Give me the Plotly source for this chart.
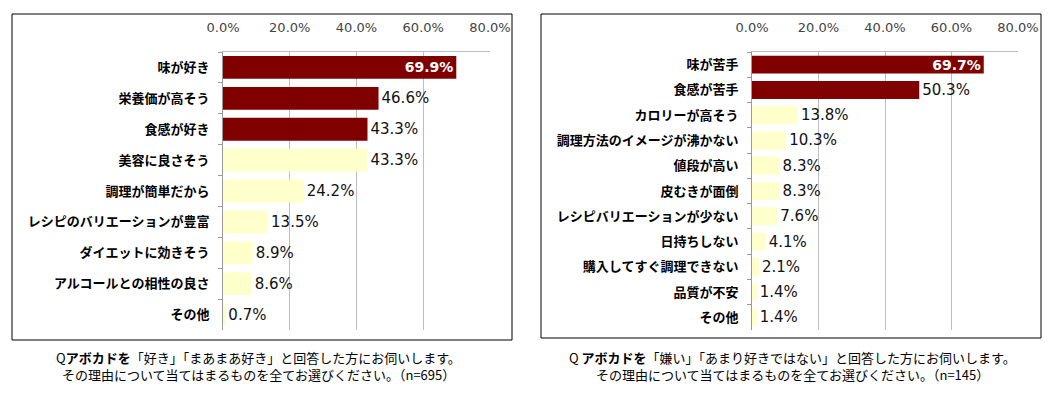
import plotly.graph_objects as go

# ---- data ----
like_reasons = ["味が好き", "栄養価が高そう", "食感が好き", "美容に良さそう", "調理が簡単だから",
                "レシピのバリエーションが豊富", "ダイエットに効きそう", "アルコールとの相性の良さ", "その他"]
like_values = [69.9, 46.6, 43.3, 43.3, 24.2, 13.5, 8.9, 8.6, 0.7]
like_highlight = 3

dislike_reasons = ["味が苦手", "食感が苦手", "カロリーが高そう", "調理方法のイメージが沸かない", "値段が高い",
                   "皮むきが面倒", "レシピバリエーションが少ない", "日持ちしない", "購入してすぐ調理できない",
                   "品質が不安", "その他"]
dislike_values = [69.7, 50.3, 13.8, 10.3, 8.3, 8.3, 7.6, 4.1, 2.1, 1.4, 1.4]
dislike_highlight = 2

tick_vals = [0, 20, 40, 60, 80]
tick_text = ["0.0%", "20.0%", "40.0%", "60.0%", "80.0%"]

caption_left = ["Q<b>アボカドを</b>「好き」「まあまあ好き」と回答した方にお伺いします。",
                "その理由について当てはまるものを全てお選びください。（n=695）"]
caption_right = ["Q <b>アボカドを</b>「嫌い」「あまり好きではない」と回答した方にお伺いします。",
                 "その理由について当てはまるものを全てお選びください。（n=145）"]

# ---- style ----
OFF = 8  # default page body margin
W, H = 1060 - OFF, 396 - OFF
DARK = "#800000"
LIGHT = "#FFFFCC"
GRID = "#BDBDBD"
LABEL_FONT = "Noto Sans CJK JP"
NUM_FONT = "DejaVu Sans"


def px_x(v):
    return (v - OFF) / W


def px_y(v):
    return 1 - (v - OFF) / H


fig = go.Figure()


def add_panel(cats, vals, n_hi, xa, ya, width):
    colors = [DARK if i < n_hi else LIGHT for i in range(len(vals))]
    pos = ["inside" if i == 0 else "outside" for i in range(len(vals))]
    fig.add_trace(go.Bar(
        y=cats, x=vals, orientation="h",
        marker=dict(color=colors, line=dict(width=0)),
        width=width,
        text=[f"{v:.1f}%" for v in vals],
        textposition=pos,
        insidetextanchor="end",
        insidetextfont=dict(family=NUM_FONT, size=14, color="white", weight="bold"),
        outsidetextfont=dict(family=NUM_FONT, size=15, color="#111111"),
        constraintext="none",
        cliponaxis=False,
        xaxis=xa, yaxis=ya, showlegend=False,
        hoverinfo="skip",
    ))


add_panel(like_reasons, like_values, like_highlight, "x", "y", 0.74)
add_panel(dislike_reasons, dislike_values, dislike_highlight, "x2", "y2", 0.71)

xcommon = dict(range=[0, 80], tickvals=tick_vals, ticktext=tick_text, side="top",
               showgrid=True, gridcolor=GRID, gridwidth=1, zeroline=False,
               showline=True, linecolor=GRID, linewidth=1, ticks="",
               ticklabelstandoff=14, automargin=False,
               tickfont=dict(family=NUM_FONT, size=13, color="#444444"), fixedrange=True)
ycommon = dict(autorange="reversed", type="category", showline=True, linecolor="#999999",
               linewidth=1, mirror=False, ticks="outside", tickson="boundaries", ticklen=4,
               tickcolor="#999999", ticklabelstandoff=10, showgrid=False, automargin=False,
               tickfont=dict(family=LABEL_FONT, size=13, color="black", weight="bold"),
               fixedrange=True)

fig.update_layout(
    width=W, height=H,
    margin=dict(l=0, r=0, t=0, b=0, autoexpand=False),
    paper_bgcolor="white", plot_bgcolor="white",
    xaxis=dict(domain=[px_x(223), px_x(490)], anchor="y", **xcommon),
    yaxis=dict(domain=[px_y(330), px_y(52)], anchor="x", **ycommon),
    xaxis2=dict(domain=[px_x(752), px_x(1018)], anchor="y2", **xcommon),
    yaxis2=dict(domain=[px_y(330), px_y(52)], anchor="x2", **ycommon),
)

# panel frames
fig.add_shape(type="rect", xref="paper", yref="paper",
              x0=px_x(12), x1=px_x(512), y0=px_y(340), y1=px_y(14),
              line=dict(color="black", width=1), layer="below")
fig.add_shape(type="rect", xref="paper", yref="paper",
              x0=px_x(541), x1=px_x(1041), y0=px_y(338), y1=px_y(14),
              line=dict(color="black", width=1), layer="below")

cap_font = dict(family=LABEL_FONT, size=13, color="black")
for lines, cx in ((caption_left, 258), (caption_right, 792)):
    for i, line in enumerate(lines):
        fig.add_annotation(xref="paper", yref="paper", x=px_x(cx), y=px_y(357 + 17 * i),
                           text=line, showarrow=False, font=cap_font,
                           xanchor="center", yanchor="middle")

fig.write_html("out.html")
